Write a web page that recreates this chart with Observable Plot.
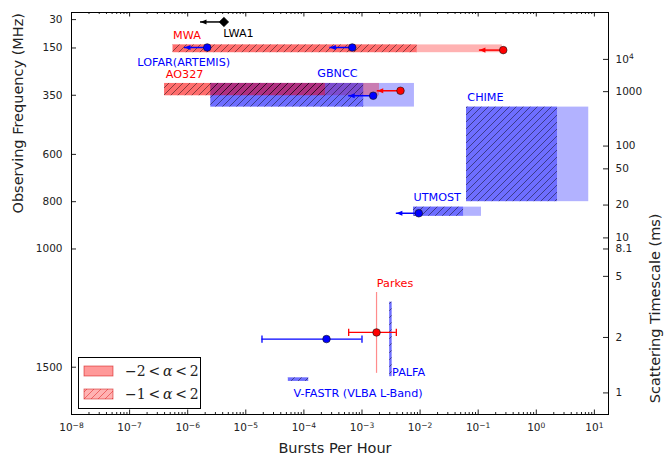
<!DOCTYPE html>
<html><head><meta charset="utf-8">
<script src="https://cdn.jsdelivr.net/npm/d3@7"></script>
<script src="https://cdn.jsdelivr.net/npm/@observablehq/plot@0.6"></script>
<style>body{margin:0;background:#fff}#chart{width:668px;height:458px}</style>
</head><body><div id="chart"></div>
<script>
// ---------- data ----------
// Survey bands: frequency range (MHz) x burst-rate range (bursts/hour)
const bandNames = ["MWA", "GBNCC", "AO327", "CHIME", "UTMOST", "PALFA", "V-FASTR"];
const bandColors = ["red", "blue", "red", "blue", "blue", "blue", "blue"];
const bandFreqLo = [137, 300, 300, 400, 823, 1225, 1545];
const bandFreqHi = [170, 400, 352, 800, 862, 1540, 1560];
const bandRateLo = [5.6e-7, 2.5e-6, 4.0e-7, 0.063, 7.7e-3, 3.0e-3, 5.4e-5];
const bandRateHatchHi = [8.9e-3, 1.07e-3, 2.35e-4, 2.32, 0.056, 3.3e-3, 1.21e-4];
const bandRateHi = [0.26, 8.0e-3, 2.0e-3, 8.0, 0.114, 3.3e-3, 1.21e-4];

// Upper limits (point + leftward arrow)
const limitNames = ["LWA1", "LOFAR(ARTEMIS)", "LOFAR(ARTEMIS) b", "MWA", "AO327", "GBNCC", "UTMOST"];
const limitColors = ["black", "blue", "blue", "red", "red", "blue", "blue"];
const limitShapes = ["D", "o", "o", "o", "o", "o", "o"];
const limitFreq = [40, 148, 148, 159, 331, 352, 849];
const limitRate = [4.2e-6, 2.17e-6, 6.8e-4, 0.27, 4.6e-3, 1.56e-3, 9.5e-3];
const limitArrowTo = [1.66e-6, 8.8e-7, 2.8e-4, 0.105, 1.83e-3, 5.9e-4, 3.9e-3];

// Measurements with error bars
const measNames = ["Parkes", "L-band"];
const measColors = ["red", "blue"];
const measFreq = [1353, 1381];
const measRate = [1.78e-3, 2.45e-4];
const measLo = [5.9e-4, 1.9e-5];
const measHi = [3.9e-3, 1.0e-3];

// Parkes frequency span line
const spanRate = [1.78e-3];
const spanFreqLo = [1184];
const spanFreqHi = [1526];

// Text labels
const labelText = ["LWA1", "MWA", "LOFAR(ARTEMIS)", "AO327", "GBNCC", "CHIME", "UTMOST", "Parkes", "PALFA", "V-FASTR (VLBA L-Band)"];
const labelColors = ["black", "red", "blue", "red", "blue", "blue", "blue", "red", "blue", "blue"];
const labelRate = [4.1e-6, 5.6e-7, 1.36e-7, 4.2e-7, 1.7e-4, 0.065, 7.7e-3, 1.8e-3, 3.3e-3, 6.6e-5];
const labelFreq = [87, 97, 212, 261, 259, 361, 784, 1145, 1521, 1612];

// Ticks
const xExponents = [-8, -7, -6, -5, -4, -3, -2, -1, 0, 1];
const freqTicks = [30, 150, 350, 600, 800, 1000, 1500];
const tauTicks = [1e4, 1000, 100, 50, 20, 10, 8.1, 5, 2, 1];
const tauLabels = ["10^4", "1000", "100", "50", "20", "10", "8.1", "5", "2", "1"];

// ---------- derived tables ----------
const bands = bandNames.map((n, i) => ({name: n, color: bandColors[i], f1: bandFreqLo[i], f2: bandFreqHi[i],
  lo: bandRateLo[i], hh: bandRateHatchHi[i], hi: bandRateHi[i]}));
const limits = limitNames.map((n, i) => ({name: n, color: limitColors[i], shape: limitShapes[i],
  freq: limitFreq[i], rate: limitRate[i], to: limitArrowTo[i]}));
const meas = measNames.map((n, i) => ({name: n, color: measColors[i], freq: measFreq[i], rate: measRate[i], lo: measLo[i], hi: measHi[i]}));
const caps = meas.flatMap(d => [{color: d.color, freq: d.freq, rate: d.lo}, {color: d.color, freq: d.freq, rate: d.hi}]);
const spans = spanRate.map((r, i) => ({rate: r, lo: spanFreqLo[i], hi: spanFreqHi[i]}));
const labels = labelText.map((t, i) => ({text: t, color: labelColors[i], rate: labelRate[i], freq: labelFreq[i]}));

const xMajor = xExponents.map(e => Math.pow(10, e));
const xMinor = xExponents.flatMap(e => [2,3,4,5,6,7,8,9].map(k => k * Math.pow(10, e))).filter(v => v < 17.5);
// scattering timescale tau = 8.1 ms * (1000 MHz / nu)^4.4  ->  nu(tau)
const tauFreq = tauTicks.map(t => 1000 * Math.pow(8.1 / t, 1 / 4.4));
const tauLabelByFreq = new Map(tauFreq.map((f, i) => [f, tauLabels[i]]));
const fmtPow = v => "10^" + Math.round(Math.log10(v));

// custom symbols
const leftHead = {draw(ctx, size) { const r = Math.sqrt(size / Math.PI); ctx.moveTo(0, 0); ctx.lineTo(1.4 * r, -0.6 * r); ctx.lineTo(1.4 * r, 0.6 * r); ctx.closePath(); }};
const vbar = {draw(ctx, size) { const r = Math.sqrt(size / Math.PI); ctx.moveTo(0, -r); ctx.lineTo(0, r); }};
const diamond = {draw(ctx, size) { const r = Math.sqrt(size / Math.PI) * 1.15; ctx.moveTo(0, -r); ctx.lineTo(r, 0); ctx.lineTo(0, r); ctx.lineTo(-r, 0); ctx.closePath(); }};

const W = 668, H = 458, mL = 71, mR = 60, mT = 12, mB = 44;
const pw = W - mL - mR, ph = H - mT - mB;

const svg = Plot.plot({
  width: W, height: H,
  marginLeft: mL, marginRight: mR, marginTop: mT, marginBottom: mB,
  style: {fontFamily: "DejaVu Sans", fontSize: "10.5px", color: "#222", background: "white"},
  x: {type: "log", domain: [1e-8, 17.5]},
  y: {domain: [0, 1700], reverse: true},
  color: {type: "identity"},
  marks: [
    Plot.rect(bands, {x1: "lo", x2: "hi", y1: "f1", y2: "f2", fill: "color", fillOpacity: 0.3}),
    Plot.rect(bands, {x1: "lo", x2: "hh", y1: "f1", y2: "f2", fill: "color", fillOpacity: 0.38}),
    Plot.rect(bands, {x1: "lo", x2: "hh", y1: "f1", y2: "f2", fill: "url(#hatch)"}),
    Plot.ruleX(spans, {x: "rate", y1: "lo", y2: "hi", stroke: "red", strokeOpacity: 0.45, strokeWidth: 1.2}),
    Plot.ruleY(limits, {y: "freq", x1: "rate", x2: "to", stroke: "color", strokeWidth: 1.5}),
    Plot.dot(limits, {x: "to", y: "freq", symbol: leftHead, r: 4.3, fill: "color", stroke: "none"}),
    Plot.dot(limits.filter(d => d.shape === "o"), {x: "rate", y: "freq", r: 3.8, fill: "color", stroke: "#111", strokeWidth: 0.6}),
    Plot.dot(limits.filter(d => d.shape === "D"), {x: "rate", y: "freq", symbol: diamond, r: 4.2, fill: "color", stroke: "#111", strokeWidth: 0.6}),
    Plot.ruleY(meas, {y: "freq", x1: "lo", x2: "hi", stroke: "color", strokeWidth: 1.3}),
    Plot.dot(caps, {x: "rate", y: "freq", symbol: vbar, r: 3.6, stroke: "color", strokeWidth: 1.3}),
    Plot.dot(meas, {x: "rate", y: "freq", r: 3.8, fill: "color", stroke: "#111", strokeWidth: 0.6}),
    Plot.text(labels, {x: "rate", y: "freq", text: "text", fill: "color", textAnchor: "start", fontSize: 11.2}),
    Plot.tickX(xMajor, {x: d => d, insetTop: ph - 4.5}),
    Plot.tickX(xMinor, {x: d => d, insetTop: ph - 2}),
    Plot.tickX(xMajor, {x: d => d, insetBottom: ph - 4.5}),
    Plot.tickX(xMinor, {x: d => d, insetBottom: ph - 2}),
    Plot.tickY(freqTicks, {y: d => d, insetRight: pw - 5}),
    Plot.tickY(tauFreq, {y: d => d, insetLeft: pw - 5}),
    Plot.axisX(xMajor, {anchor: "bottom", tickSize: 0, tickPadding: 9, tickFormat: fmtPow, label: null}),
    Plot.axisY(freqTicks, {anchor: "left", tickSize: 0, tickPadding: 9, tickFormat: d => String(d), label: null}),
    Plot.axisY(tauFreq, {anchor: "right", tickSize: 0, tickPadding: 7, tickFormat: f => tauLabelByFreq.get(f), label: null}),
    Plot.frame({stroke: "black", strokeWidth: 1}),
    Plot.text(["Bursts Per Hour"], {text: d => d, frameAnchor: "bottom", dy: 38, dx: -5, fontSize: 14.5, fill: "#222"}),
    Plot.text(["Observing Frequency (MHz)"], {text: d => d, frameAnchor: "left", dx: -53, rotate: -90, fontSize: 14.5, fill: "#222"}),
    Plot.text(["Scattering Timescale (ms)"], {text: d => d, frameAnchor: "right", dx: 47, rotate: -90, fontSize: 14.5, fill: "#222"})
  ]
});

const s = d3.select(svg);
s.insert("defs", ":first-child").html(`
  <pattern id="hatch" patternUnits="userSpaceOnUse" width="7" height="7">
    <path d="M-1,1 l2,-2 M0,7 l7,-7 M6,8 l2,-2" stroke="#000" stroke-opacity="0.5" stroke-width="0.9"/>
  </pattern>
  <pattern id="hatchRed" patternUnits="userSpaceOnUse" width="7" height="7">
    <path d="M-1,1 l2,-2 M0,7 l7,-7 M6,8 l2,-2" stroke="#d22" stroke-opacity="0.6" stroke-width="0.9"/>
  </pattern>`);

// render power-of-ten tick labels with a raised exponent
s.selectAll("text").each(function() {
  const m = /^10\^(-?\d+)$/.exec(this.textContent);
  if (m) {
    this.textContent = "10";
    d3.select(this).append("tspan").attr("dy", "-0.45em").attr("font-size", "0.72em").text(m[1].replace("-", "\u2212"));
  }
});

// legend (inside lower-left of the plot area)
const lg = s.append("g").attr("text-anchor", "start");
lg.append("rect").attr("x", 78.5).attr("y", 357.5).attr("width", 122).attr("height", 51)
  .attr("fill", "white").attr("stroke", "black").attr("stroke-width", 1);
const legendItems = [{label: "\u22122", hatch: false, y: 371}, {label: "\u22121", hatch: true, y: 394}];
legendItems.forEach(it => {
  lg.append("rect").attr("x", 84).attr("y", it.y - 5).attr("width", 29).attr("height", 10)
    .attr("fill", "red").attr("fill-opacity", it.hatch ? 0.3 : 0.4)
    .attr("stroke", "#c00").attr("stroke-opacity", 0.6).attr("stroke-width", 0.8);
  if (it.hatch) lg.append("rect").attr("x", 84).attr("y", it.y - 5).attr("width", 29).attr("height", 10).attr("fill", "url(#hatchRed)");
  const t = lg.append("text").attr("x", 125).attr("y", it.y).attr("dy", "0.35em").attr("text-anchor", "start")
    .attr("font-family", "DejaVu Serif").attr("font-size", 14).attr("fill", "#222");
  t.append("tspan").text(it.label + "\u2009<\u2009");
  t.append("tspan").attr("font-style", "italic").text("\u03B1");
  t.append("tspan").text("\u2009<\u20092");
});

document.getElementById("chart").appendChild(svg);
</script>
</body></html>
